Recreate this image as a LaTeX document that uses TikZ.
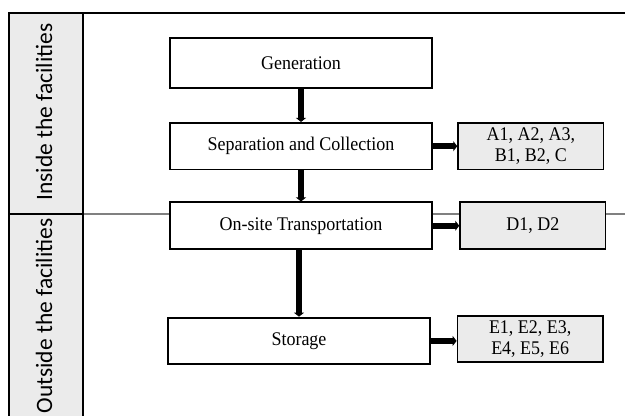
\documentclass[tikz,border=0pt]{standalone}
\usepackage{fontspec}
\setmainfont{Liberation Serif}[FakeStretch=0.93]
\newfontfamily\zonefont{Carlito}
\usetikzlibrary{positioning,arrows.meta}
\definecolor{boxgray}{HTML}{EBEBEB}
\definecolor{linegray}{HTML}{808080}
\tikzset{
  stage/.style={draw, line width=1.4pt, fill=white, minimum width=197pt,
    minimum height=35pt, inner sep=0pt, font=\fontsize{14.5}{16}\selectfont},
  codes/.style={draw, line width=1.4pt, fill=boxgray, minimum width=109pt,
    minimum height=35pt, inner sep=0pt, align=center,
    font=\fontsize{14.5}{15.75}\selectfont},
  zone/.style={rotate=90, font=\zonefont\fontsize{17.6}{20}\selectfont},
  flow/.style={line width=4.7pt, -{Triangle[length=3pt, width=7.5pt]}},
}

\begin{document}
\begin{tikzpicture}[x=0.75pt, y=-0.75pt]
  \useasboundingbox (0,0) rectangle (625,416);
  \fill[boxgray] (9,13) rectangle (83,420);
  \draw[linegray, line width=0.8pt] (83,214) -- (625,214);
  \draw[line width=1.2pt] (9,214) -- (83,214);
  \draw[line width=1.2pt] (9,420) -- (9,13) -- (625,13);
  \draw[line width=1.2pt] (83,13) -- (83,420);

  \node[zone] (inside)  at (44,112) {Inside the facilities};
  \node[zone] (outside) at (44,316) {Outside the facilities};

  \node[stage, minimum height=37.5pt] (gen) at (301,63) {Generation};
  \node[stage, below=24.75pt of gen]  (sep)    {Separation and Collection};
  \node[stage, below=23.25pt of sep]  (onsite) {On-site Transportation};
  \node[stage, below=50pt of onsite, xshift=-1.5pt] (store) {Storage};
  \node[codes, right=18pt of sep]     (abc)    {A1, A2, A3,\\B1, B2, C};
  \node[codes, right=19.5pt of onsite] (dcodes) {D1, D2};
  \node[codes, right=19pt of store, yshift=1.5pt] (ecodes) {E1, E2, E3,\\E4, E5, E6};

  \draw[flow] (gen) -- (sep);
  \draw[flow] (sep) -- (onsite);
  \draw[flow] (store.north |- onsite.south) -- (store.north);
  \draw[flow] (sep) -- (abc);
  \draw[flow] (onsite) -- (dcodes);
  \draw[flow] (store) -- (store.east -| ecodes.west);
\end{tikzpicture}
\end{document}
